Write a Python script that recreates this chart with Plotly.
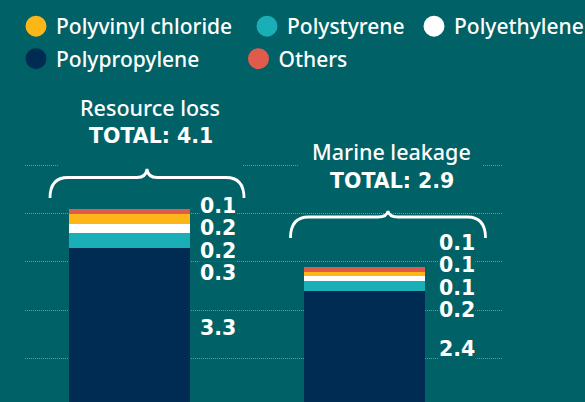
import plotly.graph_objects as go

# ---------------- data ----------------
categories = ["Resource loss", "Marine leakage"]
totals = [4.1, 2.9]
polypropylene = [3.3, 2.4]
polystyrene = [0.3, 0.2]
polyethylene = [0.2, 0.1]
polyvinyl_chloride = [0.2, 0.1]
others = [0.1, 0.1]
grid_values = [1, 2, 3, 4, 5]

# ---------------- style ----------------
BG = "#006266"
NAVY = "#002b52"
TEAL = "#1aaeb7"
WHITE = "#ffffff"
YELLOW = "#fdb618"
RED = "#e05b4b"
GRID = "#26b8c2"
TXT_FONT = "Noto Sans"
NUM_FONT = "DejaVu Sans"

W, H = 585, 402
ML, MR, MT, MB = 25, 83, 0, 0
X_RANGE = [-0.4447, 1.585]
Y_RANGE = [0.0833, 8.458]
PW, PH = W - ML - MR, H - MT - MB
BAR_W = 0.515


def paper_x(px):
    return (px - ML) / PW


def paper_y(py):
    return 1 - (py - MT) / PH


def data_y(py):
    return Y_RANGE[1] - (py - MT) / PH * (Y_RANGE[1] - Y_RANGE[0])


stack = [
    ("Polypropylene", polypropylene, NAVY),
    ("Polystyrene", polystyrene, TEAL),
    ("Polyethylene", polyethylene, WHITE),
    ("Polyvinyl chloride", polyvinyl_chloride, YELLOW),
    ("Others", others, RED),
]

fig = go.Figure()
for name, vals, col in stack:
    fig.add_trace(go.Bar(x=categories, y=vals, name=name, marker=dict(color=col, line=dict(width=0)),
                         width=BAR_W, showlegend=False, hoverinfo="skip"))

# legend entries (circles), one small legend per entry so each sits where the reference has it
legend_items = [
    ("Polyvinyl chloride", YELLOW, 16, 6),
    ("Polystyrene", TEAL, 247, 6),
    ("Polyethylene", WHITE, 414, 6),
    ("Polypropylene", NAVY, 16, 38.5),
    ("Others", RED, 238.5, 38.5),
]
legend_layouts = {}
for j, (name, col, lx, ly) in enumerate(legend_items):
    lg = "legend" if j == 0 else f"legend{j + 1}"
    fig.add_trace(go.Scatter(x=[None], y=[None], mode="markers", name=name, legend=lg,
                             marker=dict(color=col, size=16, line=dict(color=col, width=5))))
    legend_layouts[lg] = dict(orientation="h", xref="paper", yref="paper", x=paper_x(lx), y=paper_y(ly),
                              xanchor="left", yanchor="top", bgcolor="rgba(0,0,0,0)", traceorder="normal",
                              font=dict(family=TXT_FONT, size=21, color=WHITE, weight=500))

annotations = []
shapes = []

# value labels (top to bottom: Others, PVC, PE, PS, PP)
label_series = [others, polyvinyl_chloride, polyethylene, polystyrene, polypropylene]
label_px = [[205, 227, 250, 272, 327], [242, 264, 287, 309, 348]]
label_xshift = [9, 13]
for i, cat in enumerate(categories):
    for k, ser in enumerate(label_series):
        annotations.append(dict(
            x=i + BAR_W / 2, y=data_y(label_px[i][k]), xref="x", yref="y",
            text=f"<b>{ser[i]:.1f}</b>", showarrow=False, xanchor="left", yanchor="middle",
            xshift=label_xshift[i], bgcolor=BG, borderpad=0, height=21,
            font=dict(family=NUM_FONT, size=20.5, color=WHITE)))

# group titles + braces
groups = [
    dict(cx=147, title_y=107, total_y=136, box=(58, 243, 88, 168), top=169, flat=177.5, end=198, hw=97),
    dict(cx=388, title_y=151, total_y=180.5, box=(298, 482, 135, 204), top=211, flat=217, end=238, hw=97.5),
]
for i, g in enumerate(groups):
    x0, x1, y0, y1 = g["box"]
    shapes.append(dict(type="rect", xref="paper", yref="paper", x0=paper_x(x0), x1=paper_x(x1),
                       y0=paper_y(y1), y1=paper_y(y0), fillcolor=BG, line=dict(width=0), layer="above"))
    cx, hw, t, f, e = g["cx"], g["hw"], g["top"], g["flat"], g["end"]

    def P(px, py):
        return f"{paper_x(px):.5f},{paper_y(py):.5f}"

    path = (f"M {P(cx - hw, e)} Q {P(cx - hw, f)} {P(cx - hw + 18, f)} L {P(cx - 10, f)} "
            f"Q {P(cx - 1, f)} {P(cx, t)} Q {P(cx + 1, f)} {P(cx + 10, f)} "
            f"L {P(cx + hw - 18, f)} Q {P(cx + hw, f)} {P(cx + hw, e)}")
    shapes.append(dict(type="path", xref="paper", yref="paper", path=path,
                       line=dict(color=WHITE, width=2.8), layer="above"))
    annotations.append(dict(x=paper_x(cx + 3), y=paper_y(g["title_y"]), xref="paper", yref="paper",
                            text=categories[i], showarrow=False, xanchor="center", yanchor="middle",
                            font=dict(family=TXT_FONT, size=21.5, color=WHITE, weight=500)))
    annotations.append(dict(x=paper_x(cx + 4), y=paper_y(g["total_y"]), xref="paper", yref="paper",
                            text=f"<b>TOTAL: {totals[i]:.1f}</b>", showarrow=False, xanchor="center",
                            yanchor="middle", font=dict(family=NUM_FONT, size=20.5, color=WHITE)))

fig.update_layout(
    width=W, height=H, barmode="stack",
    paper_bgcolor=BG, plot_bgcolor=BG,
    margin=dict(l=ML, r=MR, t=MT, b=MB, pad=0, autoexpand=False),
    xaxis=dict(range=X_RANGE, showgrid=False, showticklabels=False, zeroline=False, showline=False,
               ticks="", fixedrange=True),
    yaxis=dict(range=Y_RANGE, tickvals=grid_values, showticklabels=False, showgrid=True,
               gridcolor=GRID, gridwidth=1, griddash="1px,1px", zeroline=False, showline=False,
               ticks="", fixedrange=True),
    annotations=annotations,
    shapes=shapes,
    showlegend=True,
    **legend_layouts,
)

fig.write_html("out.html", config={"displayModeBar": False},
               post_script="document.body.style.margin='0';document.body.style.overflow='hidden';")
